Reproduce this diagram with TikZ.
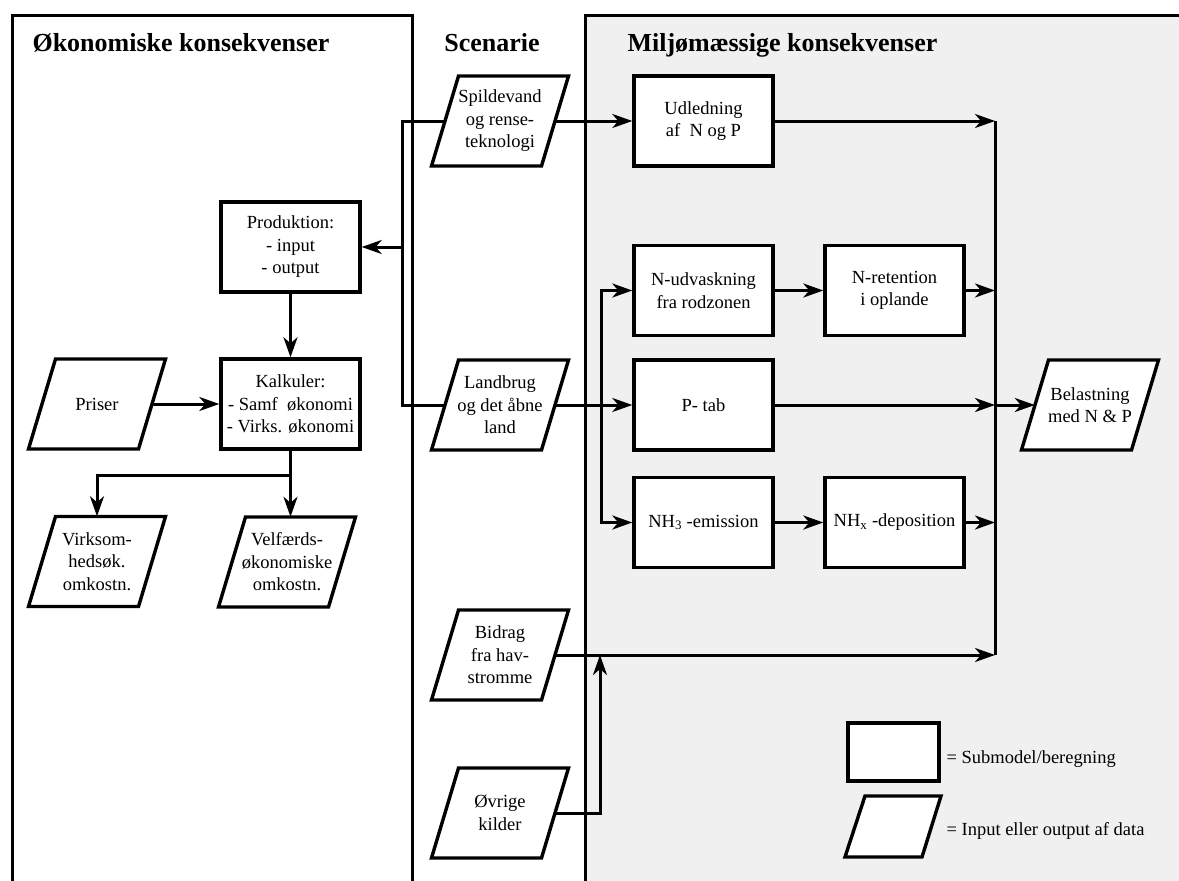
\documentclass[tikz,border=0pt]{standalone}
\usepackage{fontspec}
\setmainfont{Liberation Serif}
\usepackage{tikz}
\usetikzlibrary{arrows.meta, calc}

\tikzset{
  boxline/.style={line width=3.4pt, line join=miter},
  submodel/.style={boxline, draw, fill=white, minimum width=139pt, minimum height=90pt, align=center, inner sep=0pt},
  datatext/.style={minimum width=110pt, minimum height=90pt, align=center, inner sep=0pt},
  wire/.style={line width=3pt},
  flow/.style={wire, -{Stealth[length=20pt,width=14pt,inset=6pt]}},
  paneltitle/.style={font=\fontsize{26}{30}\selectfont\bfseries},
}
% parallelogram (input/output of data) round a centre, then its text node
\newcommand{\datanode}[3]{%
  \draw[boxline, fill=white] ($(#2)+(-68.5,45)$) -- ++(110,0) -- ++(27,-90) -- ++(-110,0) -- cycle;
  \node[datatext] (#1) at (#2) {#3};}

\begin{document}
\begin{tikzpicture}[x=1pt, y=-1pt, every node/.style={font=\fontsize{18.5}{22.5}\selectfont}]
  \useasboundingbox (0,0) rectangle (1179,881);
  % ---------- PANELS ----------
  \fill[black!6] (585,15) rectangle (1190,890);
  \draw[wire] (1190,15) -- (585,15) -- (585,890);
  \draw[wire] (12,890) -- (12,15) -- (412,15) -- (412,890);
  \node[paneltitle, anchor=base west] (okotitle) at (29,51) {Økonomiske konsekvenser};
  \node[paneltitle, anchor=base] (scentitle) at (492,51) {Scenarie};
  \node[paneltitle, anchor=base west] (miljotitle) at (624,51) {Miljømæssige konsekvenser};

  % ---------- ECONOMY ----------
  \node[submodel] (prod) at (290.5,247) {Produktion:\\- input\\- output};
  \node[submodel] (kalk) at (290.5,404) {Kalkuler:\\- Samf\ \ økonomi\\- Virks. økonomi};
  \datanode{priser}{97,404}{Priser}
  \datanode{virk}{97,561.5}{Virksom-\\hedsøk.\\omkostn.}
  \datanode{velf}{287,562}{Velfærds-\\økonomiske\\omkostn.}

  % ---------- SCENARIO ----------
  \datanode{spild}{500,121}{Spildevand\\og rense-\\teknologi}
  \datanode{landbrug}{500,405}{Landbrug\\og det åbne\\land}
  \datanode{bidrag}{500,655}{Bidrag\\fra hav-\\stromme}
  \datanode{ovrige}{500,813}{Øvrige\\kilder}

  % ---------- ENVIRONMENT ----------
  \node[submodel] (udl) at (703.5,121) {Udledning\\af\ \ N og P};
  \node[submodel] (nudv) at (703.5,290.5) {N-udvaskning\\fra rodzonen};
  \node[submodel] (nret) at (894.5,290.5) {N-retention\\i oplande};
  \node[submodel] (ptab) at (703.5,405) {P- tab};
  \node[submodel] (nh3) at (703.5,522.5) {NH\textsubscript{3} -emission};
  \node[submodel] (nhx) at (894.5,522.5) {NH\textsubscript{x} -deposition};
  \datanode{belast}{1090,405}{Belastning\\med N \& P}

  % ---------- LEGEND ----------
  \node[submodel, minimum width=91pt, minimum height=58pt] (legbox) at (893.5,752) {};
  \draw[boxline, fill=white] (845,857) -- (922,857) -- (941,796) -- (865,796) -- cycle;
  \node[anchor=base west] (legsub) at (943,763) {= Submodel/beregning};
  \node[anchor=base west] (legdat) at (943,835) {= Input eller output af data};

  % ---------- CONNECTORS ----------
  \coordinate (split) at (402,247);
  \draw[wire] (spild.west) -| (split) |- (landbrug.west);
  \draw[flow] (split) -- (prod.east);
  \draw[flow] (spild) -- (udl);
  \draw[flow] (landbrug) -- (ptab);
  \coordinate (fork) at (601,405);
  \draw[flow] (fork) |- (nudv.west);
  \draw[flow] (fork) |- (nh3.west);
  \draw[flow] (nudv) -- (nret);
  \draw[flow] (nh3) -- (nhx);
  % collector line
  \coordinate (ctop) at (995,121);
  \coordinate (cbot) at (995,655);
  \draw[wire] (ctop) -- (cbot);
  \foreach \n in {udl,nret,ptab,nhx} \draw[flow] (\n.east) -- (\n.east -| ctop);
  \draw[flow] (bidrag) -- (cbot);
  \draw[flow] (ptab.east -| ctop) -- (belast);
  \coordinate (merge) at (600,655);
  \draw[flow] (ovrige.east) -| (merge);
  % economy
  \draw[flow] (prod) -- (kalk);
  \draw[flow] (priser) -- (kalk);
  \coordinate (branch) at (290.5,475);
  \draw[flow] (kalk) -- (branch) -| (virk.north);
  \draw[flow] (branch) -- (branch |- velf.north);
\end{tikzpicture}
\end{document}
